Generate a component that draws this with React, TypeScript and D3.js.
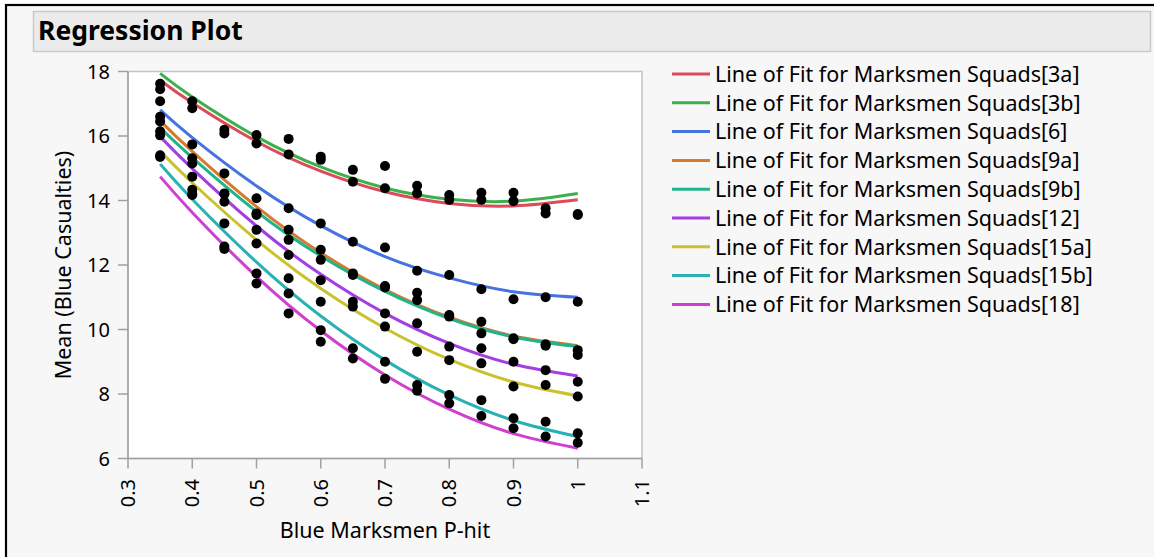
import React from 'react';
import * as d3 from 'd3';

// x positions of the measured means
const pHit = [0.35, 0.4, 0.45, 0.5, 0.55, 0.6, 0.65, 0.7, 0.75, 0.8, 0.85, 0.9, 0.95, 1.0];
const fitX = [0.35, 0.4, 0.5, 0.6, 0.7, 0.8, 0.9, 1.0];

const squads = ['3a', '3b', '6', '9a', '9b', '12', '15a', '15b', '18'];
const colors = ['#dd4a5b', '#3cb04a', '#4673e0', '#d67a2e', '#22b38c', '#a43ee0', '#c9c22c', '#28b2b4', '#cf3fd0'];

const means3a = [17.45, 16.86, 16.08, 15.77, 15.43, 15.26, 14.58, 14.38, 14.22, 14.02, 14.02, 13.98, 13.6, 13.55];
const means3b = [17.62, 17.08, 16.19, 16.03, 15.91, 15.36, 14.95, 15.07, 14.46, 14.17, 14.24, 14.24, 13.76, 13.58];
const means6 = [17.08, 15.74, 14.84, 14.07, 13.76, 13.29, 12.72, 12.54, 11.82, 11.69, 11.25, 10.94, 11.0, 10.86];
const means9a = [16.6, 15.31, 14.22, 13.6, 13.09, 12.47, 11.74, 11.35, 11.14, 10.45, 10.24, 9.73, 9.54, 9.36];
const means9b = [16.45, 15.15, 14.2, 13.55, 12.78, 12.16, 11.69, 11.3, 10.91, 10.4, 9.88, 9.7, 9.5, 9.21];
const means12 = [16.15, 14.74, 13.96, 13.09, 12.31, 11.53, 10.86, 10.5, 10.19, 9.47, 9.42, 9.0, 8.74, 8.38];
const means15a = [16.02, 14.33, 13.29, 12.67, 11.59, 10.86, 10.71, 10.09, 9.31, 9.05, 8.95, 8.23, 8.28, 7.92];
const means15b = [15.4, 14.17, 12.57, 11.74, 11.12, 9.98, 9.42, 9.0, 8.28, 7.97, 7.81, 7.25, 7.14, 6.78];
const means18 = [15.35, 14.2, 12.5, 11.43, 10.5, 9.62, 9.1, 8.47, 8.1, 7.71, 7.32, 6.94, 6.68, 6.49];

const fit3a = [17.73, 17.03, 15.83, 14.91, 14.27, 13.91, 13.83, 14.02];
const fit3b = [17.94, 17.21, 15.98, 15.04, 14.39, 14.04, 13.98, 14.22];
const fit6 = [16.81, 15.95, 14.45, 13.22, 12.26, 11.6, 11.17, 11.0];
const fit9a = [16.47, 15.52, 13.81, 12.38, 11.24, 10.38, 9.8, 9.5];
const fit9b = [16.25, 15.33, 13.66, 12.28, 11.18, 10.34, 9.77, 9.47];
const fit12 = [15.98, 14.99, 13.21, 11.71, 10.5, 9.57, 8.92, 8.56];
const fit15a = [15.53, 14.55, 12.78, 11.27, 10.04, 9.07, 8.37, 7.94];
const fit15b = [15.13, 14.04, 12.09, 10.42, 9.05, 7.97, 7.18, 6.68];
const fit18 = [14.74, 13.63, 11.64, 9.96, 8.59, 7.53, 6.77, 6.32];

const xTicks = [0.3, 0.4, 0.5, 0.6, 0.7, 0.8, 0.9, 1, 1.1];
const yTicks = [6, 8, 10, 12, 14, 16, 18];

const allMeans = [means3a, means3b, means6, means9a, means9b, means12, means15a, means15b, means18];
const allFits = [fit3a, fit3b, fit6, fit9a, fit9b, fit12, fit15a, fit15b, fit18];

const W = 1154;
const H = 557;
const font = '"Noto Sans", "Open Sans", sans-serif';

export default function App() {
  const x = d3.scaleLinear().domain([0.3, 1.1]).range([128, 642]);
  const y = d3.scaleLinear().domain([6, 18]).range([458.5, 71.5]);
  const line = d3.line<number>()
    .x((_, i) => x(fitX[i]))
    .y(d => y(d))
    .curve(d3.curveNatural);

  const [x0, x1] = x.range();
  const [yb, yt] = y.range();

  return (
    <svg width={W} height={H} style={{ position: 'absolute', left: 0, top: 0 }} fontFamily={font}>
      <rect width={W} height={H} fill="#ffffff" />
      <rect x={6} y={5} width={W} height={H} fill="#f7f7f7" stroke="#000" strokeWidth={2.2} />

      {/* header bar */}
      <rect x={33.5} y={11.5} width={1117} height={40} fill="#ebebeb" stroke="#c9c9c9" strokeWidth={1.5} />
      <text x={38} y={40} fontSize={26.5} fontWeight="bold" fill="#000">Regression Plot</text>

      {/* plot frame */}
      <rect x={x0} y={yt} width={x1 - x0} height={yb - yt} fill="#ffffff" stroke="#c4c4c4" strokeWidth={1.5} />
      <line x1={x0} x2={x0} y1={yt} y2={yb} stroke="#a0a0a0" strokeWidth={1.5} />
      <line x1={x0} x2={x1} y1={yb} y2={yb} stroke="#a0a0a0" strokeWidth={1.5} />

      {/* y axis */}
      {yTicks.map(t => (
        <g key={'y' + t}>
          <line x1={x0 - 10} x2={x0} y1={y(t)} y2={y(t)} stroke="#a0a0a0" strokeWidth={1.5} />
          <text x={110} y={y(t)} dy="0.36em" textAnchor="end" fontSize={20} fill="#000">{t}</text>
        </g>
      ))}
      {/* x axis */}
      {xTicks.map(t => (
        <g key={'x' + t}>
          <line x1={x(t)} x2={x(t)} y1={yb} y2={yb + 10} stroke="#a0a0a0" strokeWidth={1.5} />
          <text transform={`translate(${x(t)},479) rotate(-90)`} dy="0.36em" textAnchor="end" fontSize={20} fill="#000">{String(t)}</text>
        </g>
      ))}

      <text x={(x0 + x1) / 2} y={538} textAnchor="middle" fontSize={21.5} fill="#000">Blue Marksmen P-hit</text>
      <text transform={`translate(63,${(yt + yb) / 2}) rotate(-90)`} dy="0.36em" textAnchor="middle" fontSize={21.5} fill="#000">Mean (Blue Casualties)</text>

      {/* fit lines */}
      <g fill="none" strokeWidth={3}>
        {allFits.map((f, i) => (
          <path key={'f' + i} d={line(f) || ''} stroke={colors[i]} />
        ))}
      </g>

      {/* means */}
      <g fill="#000">
        {allMeans.map((m, i) => m.map((v, j) => (
          <circle key={`p${i}-${j}`} cx={x(pHit[j])} cy={y(v)} r={5} />
        )))}
      </g>

      {/* legend */}
      {squads.map((s, i) => {
        const ly = 74 + i * 28.8;
        return (
          <g key={'l' + s}>
            <line x1={672} x2={710} y1={ly} y2={ly} stroke={colors[i]} strokeWidth={3} />
            <text x={715} y={ly} dy="0.36em" fontSize={21.5} fill="#000">{`Line of Fit for Marksmen Squads[${s}]`}</text>
          </g>
        );
      })}
    </svg>
  );
}
